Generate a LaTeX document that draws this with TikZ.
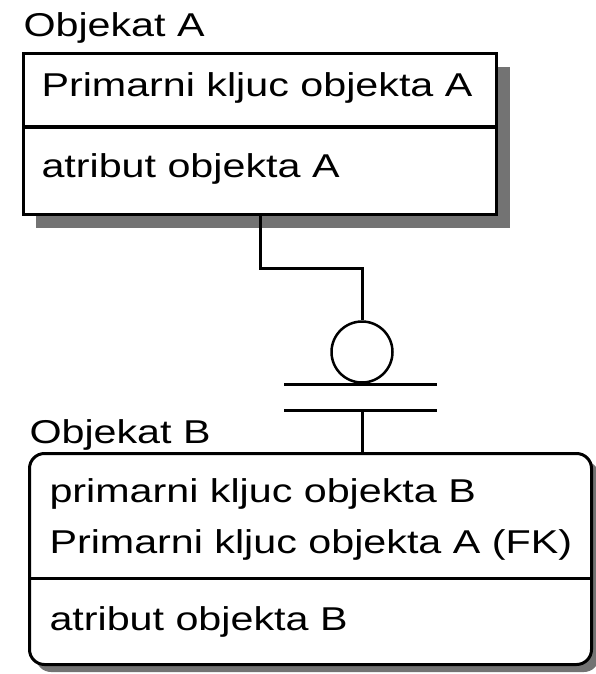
\documentclass[tikz,border=0pt]{standalone}
\usepackage{fontspec}
\newfontfamily\pf[FakeStretch=1.25]{Liberation Sans}
\begin{document}
\begin{tikzpicture}[x=1pt,y=-1pt,line width=3pt,
  txt/.style={font=\pf\fontsize{33}{36}\selectfont, anchor=base west, inner sep=0pt},
  shadowfill/.style={fill=black!55},
  entbox/.style={draw, fill=white, inner sep=0pt, line width=3pt, anchor=north west}]
\useasboundingbox (0,0) rectangle (595,674);
% Object A
\fill[shadowfill] (36,67) rectangle (510,228);
\node[entbox, minimum width=473pt, minimum height=161pt] (A) at (22,52) {};
\coordinate (dA) at (0,127);
\draw (A.west |- dA) -- (A.east |- dA);
\node[txt] (tA) at (22,37) {Objekat A};
\node[txt] (a1) at (40,97) {Primarni kljuc objekta A};
\node[txt] (a2) at (40,177) {atribut objekta A};
% Object B
\fill[shadowfill, rounded corners=15pt] (36,461) rectangle (599,672);
\node[entbox, rounded corners=15pt, minimum width=562pt, minimum height=211pt] (B) at (28,452) {};
\coordinate (dB) at (0,578);
\draw (B.west |- dB) -- (B.east |- dB);
\node[txt] (tB) at (28,443) {Objekat B};
\node[txt] (b1) at (48,502) {primarni kljuc objekta B};
\node[txt] (b2) at (48,553) {Primarni kljuc objekta A (FK)};
\node[txt] (b3) at (48,630) {atribut objekta B};
% connector
\coordinate (c1) at (260,268);
\coordinate (c2) at (362,268);
\node[circle, draw, line width=2.5pt, minimum size=61pt, inner sep=0pt] (circ) at (362,352) {};
\draw (A.south -| c1) -- (c1) -- (c2) -- (circ.north);
\coordinate (bl1) at (284,384); \coordinate (br1) at (437,384);
\coordinate (bl2) at (284,410); \coordinate (br2) at (437,410);
\coordinate (bm2) at (362,410);
\draw (bl1) -- (br1);
\draw (bl2) -- (br2);
\draw (bm2) -- (B.north -| bm2);
\end{tikzpicture}
\end{document}
